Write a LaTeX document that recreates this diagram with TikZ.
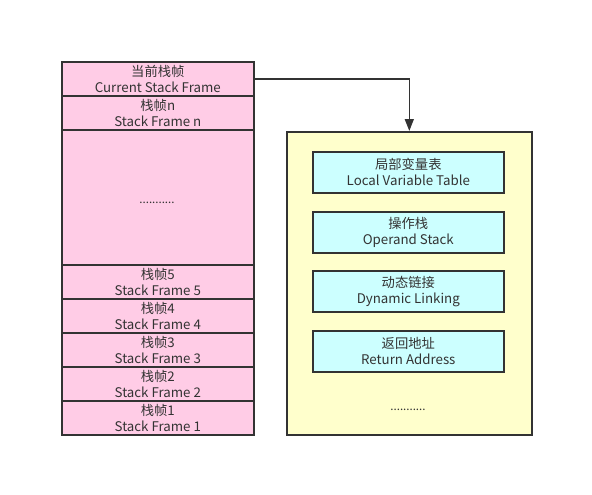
\documentclass[tikz,border=0pt]{standalone}
\usepackage{fontspec}
\setmainfont{Noto Sans CJK SC}
\usepackage{tikz}
\usetikzlibrary{arrows.meta}

\definecolor{framepink}{HTML}{FFCCE6}
\definecolor{frameyellow}{HTML}{FFFFCC}
\definecolor{partcyan}{HTML}{CCFFFF}
\definecolor{edgegray}{HTML}{333333}

\tikzset{
  stackframe/.style={draw=edgegray, line width=1.6pt, fill=framepink, anchor=north west,
    minimum width=192pt, minimum height=34pt, inner sep=0pt, align=center,
    font=\fontsize{13.3}{16}\selectfont, text=edgegray},
  framepart/.style={draw=edgegray, line width=1.6pt, fill=partcyan, anchor=north west,
    minimum width=191pt, minimum height=41pt, inner sep=0pt, align=center,
    font=\fontsize{13.3}{16}\selectfont, text=edgegray},
  dotstext/.style={font=\fontsize{11.5}{14}\selectfont, text=edgegray}
}

\begin{document}
\begin{tikzpicture}[x=1pt, y=-1pt]
        \useasboundingbox (0,0) rectangle (592,495);
        % stack of frames
        \node[stackframe] (cur) at (61,61) {当前栈帧\\Current Stack Frame};
        \node[stackframe] (sfn) at (61,95) {栈帧n\\Stack Frame n};
        \node[stackframe, minimum height=135pt] (gap) at (61,129) {};
        \node[dotstext] (gapdots) at (157,203) {...........};
        \foreach \i/\y in {5/264, 4/298, 3/332, 2/366, 1/400}
          \node[stackframe] (sf\i) at (61,\y) {栈帧\i\\Stack Frame \i};
        % inside the current frame
        \node[draw=edgegray, line width=1.6pt, fill=frameyellow, anchor=north west,
          minimum width=245pt, minimum height=303pt, inner sep=0pt] (frame) at (286,131) {};
        \node[framepart] (lvt) at (312,151) {局部变量表\\Local Variable Table};
        \node[framepart] (ops) at (312,211) {操作栈\\Operand Stack};
        \node[framepart] (dyn) at (312,270) {动态链接\\Dynamic Linking};
        \node[framepart] (ret) at (312,330) {返回地址\\Return Address};
        \node[dotstext] (framedots) at (408,410) {...........};
        \draw[edgegray, line width=1.6pt, -{Triangle[length=12pt, width=9pt]}] (cur.east) -| (frame.north);
    \end{tikzpicture}
\end{document}
